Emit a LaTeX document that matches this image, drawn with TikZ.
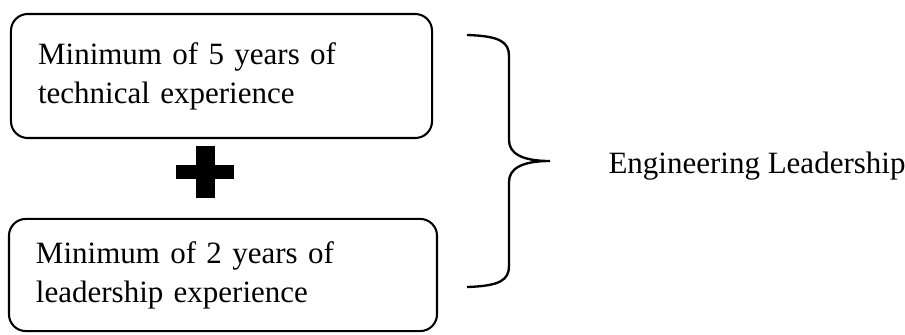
\documentclass[tikz,border=0pt]{standalone}
\usepackage{fontspec}
\setmainfont{Liberation Serif}
\usetikzlibrary{positioning}

\tikzset{
	reqbox/.style={draw, line width=0.8pt, rounded corners=6.5pt, align=left, inner xsep=10.4pt, inner ysep=0pt},
	bracket/.style={line width=0.9pt}
}

\begin{document}
\begin{tikzpicture}[x=0.3871pt, y=-0.3871pt, font=\fontsize{12}{15.1}\selectfont]
	\useasboundingbox (0,0) rectangle (905,334);
	
	\node[reqbox, text width=142pt, minimum width=163pt, minimum height=48pt] (tech) at (221.5,76) {Minimum of 5 years of\\technical experience};
	\node[reqbox, text width=144.8pt, minimum width=165.7pt, minimum height=43.4pt] (lead) at (223,275) {Minimum of 2 years of\\leadership experience};
	
	% plus sign
	\fill (176,165) rectangle (234,179);
	\fill (195.5,146) rectangle (215,198);
	
	\node[anchor=base west, inner sep=0pt] (eng) at (608,173) {Engineering Leadership};
	\coordinate (tip) at (550,161);
	
	\draw[bracket] (467,35) .. controls (500,36) and (509,42) .. (509,56) -- (509,140)
		.. controls (509,153) and (521,161) .. (tip)
		.. controls (521,161) and (509,169) .. (509,182) -- (509,266)
		.. controls (509,280) and (500,286) .. (467,287);
\end{tikzpicture}
\end{document}
